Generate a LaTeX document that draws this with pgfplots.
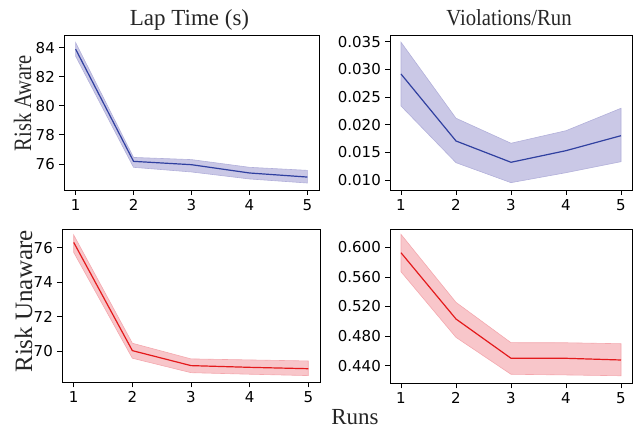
\documentclass[border=0pt]{standalone}
\usepackage{pgfplots}
\pgfplotsset{compat=1.18}
\usepackage{pgfplotstable}
\usepackage{fontspec}
\setmainfont{Liberation Serif}
\newfontfamily\tickfont{DejaVu Sans}
\definecolor{bline}{RGB}{48,64,160}
\definecolor{bfill}{RGB}{202,200,230}
\definecolor{bedge}{RGB}{178,176,218}
\definecolor{rline}{RGB}{228,26,28}
\definecolor{rfill}{RGB}{248,198,202}
\definecolor{redge}{RGB}{244,168,174}

% mean lines
\pgfplotstableread{
x m
1 83.90
2 76.18
3 75.95
4 75.38
5 75.10
}\lapaware
% band: upper edge 1..5, then lower edge 5..1
\pgfplotstableread{
x y
1 84.35
2 76.45
3 76.30
4 75.77
5 75.56
5 74.69
4 74.97
3 75.45
2 75.77
1 83.42
}\lapawareband
\pgfplotstableread{
x m
1 0.02916
2 0.01705
3 0.01320
4 0.01530
5 0.01801
}\violaware
\pgfplotstableread{
x y
1 0.03490
2 0.02116
3 0.01664
4 0.01891
5 0.02296
5 0.01331
4 0.01132
3 0.00952
2 0.01313
1 0.02338
}\violawareband
\pgfplotstableread{
x m
1 76.31
2 70.02
3 69.15
4 69.05
5 68.97
}\lapunaware
\pgfplotstableread{
x y
1 76.74
2 70.45
3 69.54
4 69.48
5 69.42
5 68.57
4 68.65
3 68.74
2 69.58
1 75.73
}\lapunawareband
\pgfplotstableread{
x m
1 0.5927
2 0.5031
3 0.4500
4 0.4500
5 0.4477
}\violunaware
\pgfplotstableread{
x y
1 0.6175
2 0.5256
3 0.4711
4 0.4710
5 0.4697
5 0.4264
4 0.4275
3 0.4284
2 0.4783
1 0.5670
}\violunawareband

\pgfplotsset{
  base/.style={
    scale only axis, anchor=south west,
    xmin=0.8, xmax=5.2, xtick={1,2,3,4,5},
    tick align=outside, xtick pos=bottom, ytick pos=left,
    major tick length=5bp,
    axis line style={line width=0.8bp, black},
    every tick/.style={black, line width=0.8bp},
    tick label style={font=\tickfont\fontsize{15bp}{15bp}\selectfont},
    /pgf/number format/assume math mode=true,
    yticklabel style={inner sep=0pt, xshift=-4bp},
    xticklabel style={inner sep=0pt, yshift=-4bp},
    scaled y ticks=false,
  },
  threedec/.style={yticklabel style={/pgf/number format/fixed, /pgf/number format/fixed zerofill, /pgf/number format/precision=3}},
}

\begin{document}
\begin{tikzpicture}
\path (0,0) rectangle (641bp,431bp);

% top-left
\begin{axis}[base, at={(64bp,241bp)}, width=255bp, height=155bp,
  ymin=74.21, ymax=84.87, ytick={76,78,80,82,84}]
  \addplot[fill=bfill, draw=bedge, line width=0.6bp] table[x=x,y=y] {\lapawareband} -- cycle;
  \addplot[bline, line width=1.2bp] table[x=x,y=m] {\lapaware};
\end{axis}

% top-right
\begin{axis}[base, threedec, at={(390bp,241bp)}, width=242bp, height=155bp,
  ymin=0.00819, ymax=0.03621, ytick={0.010,0.015,0.020,0.025,0.030,0.035}]
  \addplot[fill=bfill, draw=bedge, line width=0.6bp] table[x=x,y=y] {\violawareband} -- cycle;
  \addplot[bline, line width=1.2bp] table[x=x,y=m] {\violaware};
\end{axis}

% bottom-left
\begin{axis}[base, at={(62bp,48.7bp)}, width=258bp, height=153.3bp,
  ymin=68.18, ymax=77.09, ytick={70,72,74,76}]
  \addplot[fill=rfill, draw=redge, line width=0.6bp] table[x=x,y=y] {\lapunawareband} -- cycle;
  \addplot[rline, line width=1.2bp] table[x=x,y=m] {\lapunaware};
\end{axis}

% bottom-right
\begin{axis}[base, threedec, at={(390bp,47.7bp)}, width=242bp, height=154.3bp,
  ymin=0.4162, ymax=0.6248, ytick={0.44,0.48,0.52,0.56,0.60}]
  \addplot[fill=rfill, draw=redge, line width=0.6bp] table[x=x,y=y] {\violunawareband} -- cycle;
  \addplot[rline, line width=1.2bp] table[x=x,y=m] {\violunaware};
\end{axis}

\node[anchor=base, inner sep=0pt, font=\fontsize{23bp}{23bp}\selectfont, text=black!85] at (189.5bp,405bp) {Lap Time (s)};
\node[anchor=base, inner sep=0pt, font=\fontsize{23bp}{23bp}\selectfont, text=black!85] at (509bp,405bp) {\scalebox{0.9}[1]{Violations/Run}};
\node[anchor=base, inner sep=0pt, font=\fontsize{23bp}{23bp}\selectfont, text=black!85] at (355bp,7bp) {Runs};
\node[rotate=90, anchor=base, inner sep=0pt, font=\fontsize{25bp}{25bp}\selectfont, text=black!85] at (31bp,327.5bp) {\scalebox{0.82}[1]{Risk Aware}};
\node[rotate=90, anchor=base, inner sep=0pt, font=\fontsize{25bp}{25bp}\selectfont, text=black!85] at (32bp,129.5bp) {Risk Unaware};
\end{tikzpicture}
\end{document}
